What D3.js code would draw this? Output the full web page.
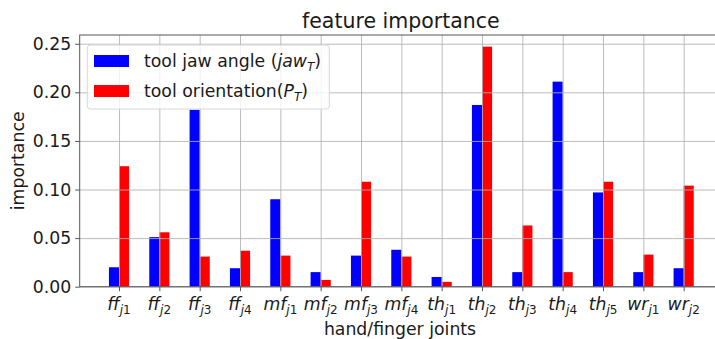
<!DOCTYPE html>
<html>
<head>
<meta charset="utf-8">
<script src="https://cdn.jsdelivr.net/npm/d3@7"></script>
<style>
  body { margin: 0; background: #fff; }
  text { font-family: "DejaVu Sans", sans-serif; fill: #1a1a1a; }
</style>
</head>
<body>
<svg id="chart" width="715" height="339"></svg>
<script>
// joints on the x axis: base letters + subscript digit
var joint_base = ["ff", "ff", "ff", "ff", "mf", "mf", "mf", "mf", "th", "th", "th", "th", "th", "wr", "wr"];
var joint_num  = ["1", "2", "3", "4", "1", "2", "3", "4", "1", "2", "3", "4", "5", "1", "2"];

// importance values
var jaw_values    = [0.020, 0.051, 0.182, 0.019, 0.090, 0.015, 0.032, 0.038, 0.010, 0.187, 0.015, 0.211, 0.097, 0.015, 0.019];
var orient_values = [0.124, 0.056, 0.031, 0.037, 0.032, 0.007, 0.108, 0.031, 0.005, 0.247, 0.063, 0.015, 0.108, 0.033, 0.104];

var y_ticks = [0, 0.05, 0.10, 0.15, 0.20, 0.25];

var bar_w = 0.25;
var svg = d3.select("#chart");

var ax_left = 79.7, ax_right = 723, ax_top = 35, ax_bottom = 286.7;

var x = d3.scaleLinear().domain([-0.975, 14.975]).range([ax_left, ax_right]);
var y = d3.scaleLinear().domain([0, 0.259]).range([ax_bottom, ax_top]);

var idx = d3.range(joint_base.length);

// bars
svg.append("g").selectAll("rect")
  .data(jaw_values)
  .enter().append("rect")
  .attr("x", function(d, i) { return x(i - bar_w); })
  .attr("width", function(d, i) { return x(i) - x(i - bar_w); })
  .attr("y", function(d) { return y(d); })
  .attr("height", function(d) { return y(0) - y(d); })
  .attr("fill", "#0000ff");

svg.append("g").selectAll("rect")
  .data(orient_values)
  .enter().append("rect")
  .attr("x", function(d, i) { return x(i); })
  .attr("width", function(d, i) { return x(i + bar_w) - x(i); })
  .attr("y", function(d) { return y(d); })
  .attr("height", function(d) { return y(0) - y(d); })
  .attr("fill", "#ff0000");

// grid (drawn over bars like matplotlib does)
var gridX = svg.append("g")
  .attr("transform", "translate(0," + ax_bottom + ")")
  .call(d3.axisBottom(x).tickValues(idx).tickSize(-(ax_bottom - ax_top)).tickFormat(""));
var gridY = svg.append("g")
  .attr("transform", "translate(" + ax_left + ",0)")
  .call(d3.axisLeft(y).tickValues(y_ticks).tickSize(-(ax_right - ax_left)).tickFormat(""));
[gridX, gridY].forEach(function(g) {
  g.select(".domain").remove();
  g.selectAll("line").attr("stroke", "#b0b0b0").attr("stroke-width", 1).attr("opacity", 0.85);
});

// frame
svg.append("rect")
  .attr("x", ax_left).attr("y", ax_top)
  .attr("width", ax_right - ax_left).attr("height", ax_bottom - ax_top)
  .attr("fill", "none").attr("stroke", "#555").attr("stroke-width", 1);

// y axis
var yAxis = svg.append("g")
  .attr("transform", "translate(" + ax_left + ",0)")
  .call(d3.axisLeft(y).tickValues(y_ticks).tickSize(4.5).tickPadding(4).tickFormat(d3.format(".2f")));
yAxis.select(".domain").remove();
yAxis.selectAll("line").attr("stroke", "#555");
yAxis.selectAll("text").style("font-size", "17.3px").style("font-family", "DejaVu Sans").attr("fill", "#1a1a1a");

// x axis
var xAxis = svg.append("g")
  .attr("transform", "translate(0," + ax_bottom + ")")
  .call(d3.axisBottom(x).tickValues(idx).tickSize(4.5).tickFormat(""));
xAxis.select(".domain").remove();
xAxis.selectAll("line").attr("stroke", "#555");

var xl = svg.append("g").selectAll("text")
  .data(idx)
  .enter().append("text")
  .attr("x", function(i) { return x(i); })
  .attr("y", 310)
  .attr("text-anchor", "middle")
  .style("font-size", "17.3px")
  .style("font-style", "italic");
xl.append("tspan").text(function(i) { return joint_base[i]; });
xl.append("tspan").attr("dy", 3.5).style("font-size", "12px").text("j");
xl.append("tspan").style("font-size", "12px").style("font-style", "normal").text(function(i) { return joint_num[i]; });

// title and labels
svg.append("text")
  .attr("x", (ax_left + ax_right) / 2 - 0.5).attr("y", 28)
  .attr("text-anchor", "middle")
  .style("font-size", "20.5px")
  .text("feature importance");

svg.append("text")
  .attr("x", 400).attr("y", 335)
  .attr("text-anchor", "middle")
  .style("font-size", "17.3px")
  .text("hand/finger joints");

svg.append("text")
  .attr("transform", "translate(24," + ((ax_top + ax_bottom) / 2) + ") rotate(-90)")
  .attr("text-anchor", "middle")
  .style("font-size", "17.3px")
  .text("importance");

// legend
var legend = svg.append("g");
legend.append("rect")
  .attr("x", 87.3).attr("y", 45)
  .attr("width", 242).attr("height", 64)
  .attr("rx", 3)
  .attr("fill", "#fff").attr("fill-opacity", 0.8)
  .attr("stroke", "#d8d8d8").attr("stroke-width", 1);

legend.append("rect").attr("x", 94).attr("y", 55).attr("width", 35).attr("height", 12).attr("fill", "#0000ff");
legend.append("rect").attr("x", 94).attr("y", 85).attr("width", 35).attr("height", 12).attr("fill", "#ff0000");

var t1 = legend.append("text").attr("x", 144).attr("y", 67).style("font-size", "17.3px");
t1.append("tspan").text("tool jaw angle (");
t1.append("tspan").style("font-style", "italic").text("jaw");
t1.append("tspan").attr("dy", 3.5).style("font-size", "12px").style("font-style", "italic").text("T");
t1.append("tspan").attr("dy", -3.5).text(")");

var t2 = legend.append("text").attr("x", 144).attr("y", 97).style("font-size", "17.3px");
t2.append("tspan").text("tool orientation(");
t2.append("tspan").style("font-style", "italic").text("P");
t2.append("tspan").attr("dy", 3.5).style("font-size", "12px").style("font-style", "italic").text("T");
t2.append("tspan").attr("dy", -3.5).text(")");
</script>
</body>
</html>
